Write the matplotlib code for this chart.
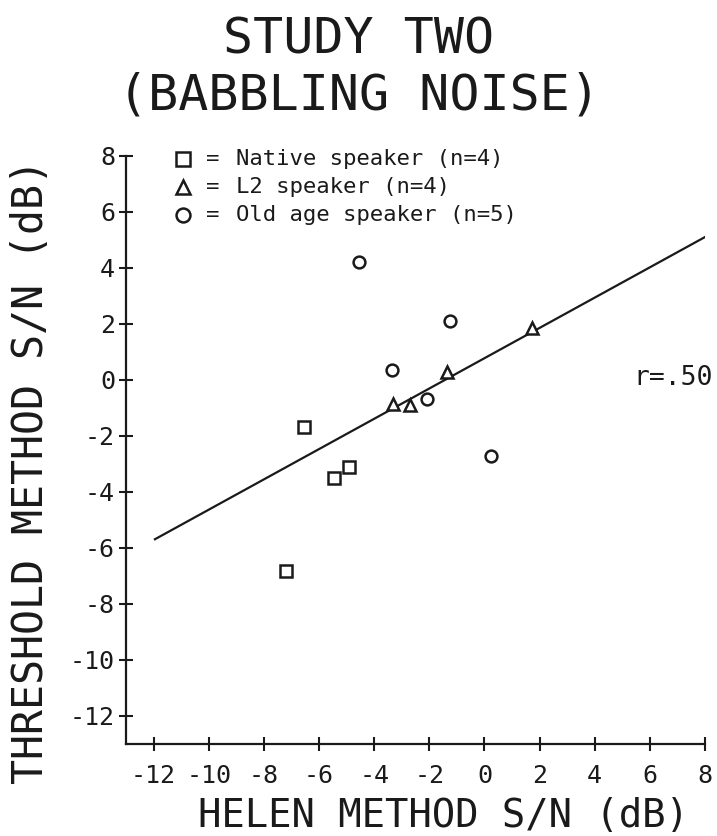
import matplotlib
matplotlib.use("Agg")
import matplotlib.pyplot as plt
import numpy as np

# ---- data ----
native_x = [-6.55, -5.45, -4.9, -7.2]
native_y = [-1.69, -3.53, -3.11, -6.83]
l2_x = [-3.3, -2.7, -1.35, 1.72]
l2_y = [-0.88, -0.90, 0.28, 1.83]
old_x = [-4.55, -1.25, -3.35, -2.1, 0.24]
old_y = [4.19, 2.10, 0.33, -0.69, -2.72]

fit_slope = 0.541
fit_intercept = 0.76
fit_x = [-11.95, 8.32]

x_ticks = [-12, -10, -8, -6, -4, -2, 0, 2, 4, 6, 8]
y_ticks = [-12, -10, -8, -6, -4, -2, 0, 2, 4, 6, 8]

legend_labels = ["Native speaker (n=4)", "L2 speaker (n=4)", "Old age speaker (n=5)"]
title_lines = ["STUDY TWO", "(BABBLING NOISE)"]
x_label = "HELEN METHOD S/N (dB)"
y_label = "THRESHOLD METHOD S/N (dB)"
r_text = "r=.50"

FONT = "DejaVu Sans Mono"
INK = "#1a1a1a"
plt.rcParams['font.family'] = [FONT, 'DejaVu Sans']
plt.rcParams['axes.unicode_minus'] = False

W, H = 717, 836
fig = plt.figure(figsize=(W / 100, H / 100), dpi=100)
left, right, top, bottom = 126, 705, 155.5, 743.5
ax = fig.add_axes([left / W, 1 - bottom / H, (right - left) / W, (bottom - top) / H])
ax.set_xlim(-13, 8)
ax.set_ylim(-13, 8)

for s in ["top", "right"]:
    ax.spines[s].set_visible(False)
for s in ["left", "bottom"]:
    ax.spines[s].set_linewidth(1.6)
    ax.spines[s].set_color(INK)

ax.set_xticks(x_ticks)
ax.set_yticks(y_ticks)
ax.set_xticklabels([str(t) for t in x_ticks])
ax.set_yticklabels([str(t) for t in y_ticks])
ax.tick_params(axis="both", direction="inout", length=10, width=1.5, colors=INK,
               labelsize=18, labelcolor=INK)
ax.tick_params(axis="x", pad=10)
ax.tick_params(axis="y", pad=3)

# regression line
fx = np.array(fit_x)
ax.plot(fx, fit_slope * fx + fit_intercept, color=INK, lw=1.6, zorder=2)

mk = dict(linestyle="none", markerfacecolor="white", markeredgecolor=INK, markeredgewidth=1.8, zorder=3)
ax.plot(native_x, native_y, marker="s", markersize=8, **mk)
ax.plot(l2_x, l2_y, marker="^", markersize=8.5, **mk)
ax.plot(old_x, old_y, marker="o", markersize=8.5, **mk)

# legend (symbol, "=", text rows)
leg_marker_x = -10.95
leg_eq_x = -9.87
leg_text_x = -9.0
leg_rows_y = [7.89, 6.88, 5.89]
leg_markers = ["s", "^", "o"]
for m, yy, lab in zip(leg_markers, leg_rows_y, legend_labels):
    ax.plot([leg_marker_x], [yy], marker=m, markersize=10, linestyle="none",
            markerfacecolor="white", markeredgecolor=INK, markeredgewidth=1.8, clip_on=False)
    ax.text(leg_eq_x, yy, "=", fontsize=16, color=INK, ha="center", va="center")
    ax.text(leg_text_x, yy, lab, fontsize=16, color=INK, ha="left", va="center")

ax.text(8.27, 0.05, r_text, fontsize=19, color=INK, ha="right", va="center", clip_on=False)

# titles and labels
fig.text(358.5 / W, 1 - 40 / H, title_lines[0], fontsize=36, color=INK, ha="center", va="center")
fig.text(358.5 / W, 1 - 95 / H, title_lines[1], fontsize=36, color=INK, ha="center", va="center")
fig.text(443 / W, 1 - 816 / H, x_label, fontsize=28, color=INK, ha="center", va="center")
fig.text(31 / W, 1 - 472 / H, y_label, fontsize=30, color=INK, ha="center", va="center", rotation=90)

fig.savefig("out.png", dpi=100, facecolor="white")
